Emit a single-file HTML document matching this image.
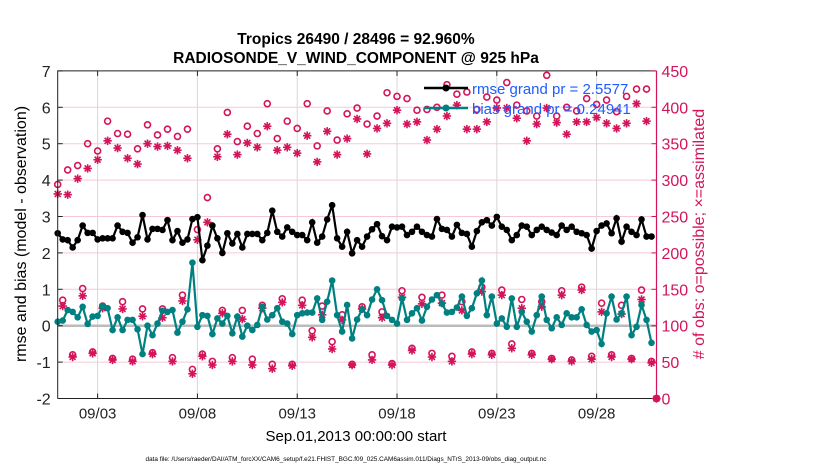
<!DOCTYPE html>
<html><head><meta charset="utf-8"><style>
body{margin:0;background:#fff;}
svg text{font-family:"Liberation Sans",sans-serif;}
</style></head><body>
<svg id="chart" width="830" height="470" xmlns="http://www.w3.org/2000/svg">
<g id="grid"></g>
<g id="series"></g>
<g id="axes"></g>
<text x="356" y="44" text-anchor="middle" font-size="15.5" font-weight="bold">Tropics 26490 / 28496 = 92.960%</text>
<text x="356" y="63" text-anchor="middle" font-size="15.5" font-weight="bold">RADIOSONDE_V_WIND_COMPONENT @ 925 hPa</text>
<text transform="translate(26,234) rotate(-90)" text-anchor="middle" font-size="16">rmse and bias (model - observation)</text>
<text transform="translate(704,234) rotate(-90)" text-anchor="middle" font-size="16" fill="#d4145a"># of obs: o=possible; ×=assimilated</text>
<text x="356" y="441" text-anchor="middle" font-size="15">Sep.01,2013 00:00:00 start</text>
<text x="346" y="461" text-anchor="middle" font-size="6.4">data file: /Users/raeder/DAI/ATM_forcXX/CAM6_setup/f.e21.FHIST_BGC.f09_025.CAM6assim.011/Diags_NTrS_2013-09/obs_diag_output.nc</text>
<g id="legend">
<line x1="424" y1="88" x2="468" y2="88" stroke="#000" stroke-width="2.5"/><circle cx="446" cy="88" r="3.5" fill="#000"/>
<text x="472" y="94" font-size="15" fill="#1f5cff">rmse grand pr = 2.5577</text>
<line x1="424" y1="108" x2="468" y2="108" stroke="#008080" stroke-width="2.5"/><circle cx="446" cy="108" r="3.5" fill="#008080"/>
<text x="472" y="114" font-size="15" fill="#1f5cff">bias grand pr = 0.24941</text>
</g>
</svg>
<script>
const xTickLabels=["09/03","09/08","09/13","09/18","09/23","09/28"];
const xTickDays=[2,7,12,17,22,27];
const yTicks=[-2,-1,0,1,2,3,4,5,6,7];
const y2Ticks=[0,50,100,150,200,250,300,350,400,450];
const rmse=[2.54,2.37,2.35,2.15,2.35,2.75,2.55,2.55,2.37,2.4,2.4,2.4,2.75,2.58,2.55,2.28,2.43,3.04,2.37,2.66,2.66,2.63,2.9,2.35,2.6,2.28,2.37,2.93,2.98,1.8,2.2,2.75,2.4,2.0,2.54,2.26,2.52,2.15,2.52,2.52,2.52,2.35,2.55,3.16,2.58,2.45,2.7,2.58,2.49,2.49,2.35,2.84,2.28,2.45,2.92,3.31,2.4,2.17,2.58,1.99,2.35,2.17,2.45,2.65,2.79,2.46,2.35,2.72,2.7,2.72,2.49,2.58,2.72,2.58,2.49,2.45,2.93,2.66,2.63,2.45,2.77,2.55,2.52,2.17,2.6,2.84,2.9,2.75,2.99,2.72,2.63,2.35,2.49,2.75,2.72,2.49,2.63,2.72,2.63,2.56,2.49,2.75,2.63,2.72,2.58,2.54,2.49,2.12,2.6,2.75,2.81,2.54,2.95,2.31,2.72,2.58,2.49,2.92,2.45,2.45];
const bias=[0.11,0.14,0.43,0.38,0.23,0.52,0.05,0.25,0.27,0.54,0.48,-0.12,0.23,-0.12,0.16,0.16,-0.1,-0.78,0,-0.26,0.06,0.41,0.38,0.43,-0.19,0.11,0.45,1.73,-0.03,0.29,0.27,-0.23,0.2,0.06,0.27,-0.21,0.25,-0.3,0,-0.12,0.02,0.52,0.17,0.29,0.48,0.11,0.06,-0.23,0.29,0.34,0.36,0.36,0.75,0.16,0.66,1.24,0.29,-0.16,0.57,-0.35,0.17,0.45,0.29,0.72,1.0,0.7,0.27,0.16,0.06,0.75,0.16,0.34,0.48,0.14,0.52,0.72,0.84,0.61,0.36,0.38,0.5,0.8,0.27,0.48,0.89,1.24,0.29,0.8,0.06,0.2,-0.03,0.75,-0.03,0.38,0.11,-0.16,0.29,0.8,0.16,-0.07,0.23,0.02,0.34,0.23,0.23,0.45,0.02,-0.16,-0.12,-0.5,0.34,0.8,0.17,0.34,0.8,-0.26,-0.03,0.57,0.16,-0.47];
const possible=[294,135,314,60,320,151,350,64,340,127,381,55,364,133,363,54,343,123,376,63,362,123,370,56,360,142,370,40,232,61,276,51,343,121,393,56,353,121,374,54,364,128,405,47,357,137,381,47,371,135,405,93,347,127,395,78,355,115,391,47,399,126,377,60,388,119,420,48,415,148,412,69,396,139,397,62,400,142,431,58,418,133,421,64,397,153,414,62,410,149,434,75,403,136,395,62,388,133,444,55,388,148,400,53,395,153,412,58,404,131,410,60,394,128,415,55,425,149,425,51,0];
const assimilated=[281,127,280,57,302,141,316,62,328,124,354,53,344,123,330,51,322,113,350,61,346,111,347,51,341,134,330,34,218,58,242,46,332,117,363,51,335,109,351,46,345,124,374,41,341,132,345,45,337,128,361,84,325,115,367,68,335,108,357,46,384,123,336,53,371,111,378,46,396,139,377,66,380,130,355,57,370,131,388,51,403,121,370,61,370,147,380,60,399,142,399,69,385,124,354,60,377,126,399,54,379,142,363,51,380,149,380,54,386,119,378,57,371,116,378,54,405,136,381,49,0];

const L=57.7,R=656.5,T=70.9,B=398.5;
const xs=d=>L+(d/30)*(R-L);
const ys=v=>B-(v+2)/9*(B-T);
const y2s=v=>B-v/450*(B-T);
const NS="http://www.w3.org/2000/svg";
function mk(tag,attrs,parent){const e=document.createElementNS(NS,tag);for(const k in attrs)e.setAttribute(k,attrs[k]);parent.appendChild(e);return e;}
const grid=document.getElementById('grid'),series=document.getElementById('series'),axes=document.getElementById('axes');
const PINK="#d4145a";
yTicks.forEach(v=>{if(v===-2||v===7)return;const l=mk('line',{x1:L,x2:R,y1:ys(v),y2:ys(v),stroke:'#f5c9da','stroke-width':1},grid);

});
xTickDays.forEach(d=>{const l=mk('line',{x1:xs(d),x2:xs(d),y1:T,y2:B,stroke:'#d8d8d8','stroke-width':1},grid);

});
const zl=mk('line',{x1:L,x2:R,y1:ys(0),y2:ys(0),stroke:'#bbbbbb','stroke-width':2.5},grid);


function star(cx,cy,parent){const g=mk('g',{stroke:PINK,'stroke-width':1.6},parent);const r=4.2;
for(let a=0;a<4;a++){const t=a*Math.PI/4;mk('line',{x1:cx-r*Math.cos(t),y1:cy-r*Math.sin(t),x2:cx+r*Math.cos(t),y2:cy+r*Math.sin(t)},g);}
mk('circle',{cx:cx,cy:cy,r:2,fill:PINK,stroke:'none'},g);return g;}
possible.forEach((v,i)=>{const c=mk('circle',{cx:xs(i*0.25),cy:y2s(v),r:3,fill:'none',stroke:PINK,'stroke-width':1.6},series);

});
assimilated.forEach((v,i)=>{const s=star(xs(i*0.25),y2s(v),series);

});
function line(arr,color,name){const p=mk('polyline',{points:arr.map((v,i)=>xs(i*0.25)+','+ys(v)).join(' '),fill:'none',stroke:color,'stroke-width':2.2},series);


arr.forEach((v,i)=>{const c=mk('circle',{cx:xs(i*0.25),cy:ys(v),r:3.3,fill:color},series);

});}
line(rmse,'#000','rmse');
line(bias,'#008080','bias');
const box=mk('path',{d:`M${L},${B}V${T}H${R}M${L},${B}H${R}`,fill:'none',stroke:'#222','stroke-width':1},axes);


const rs=mk('line',{x1:R,x2:R,y1:T,y2:B,stroke:PINK,'stroke-width':1.2},axes);


yTicks.forEach(v=>{mk('line',{x1:L,x2:L+5,y1:ys(v),y2:ys(v),stroke:'#222'},axes);
const t=mk('text',{x:L-7,y:ys(v)+6,'text-anchor':'end','font-size':16,fill:'#222'},axes);t.textContent=v;

});
y2Ticks.forEach(v=>{mk('line',{x1:R-5,x2:R,y1:y2s(v),y2:y2s(v),stroke:PINK},axes);
const t=mk('text',{x:R+5,y:y2s(v)+6,'font-size':16,fill:PINK},axes);t.textContent=v;

});
xTickDays.forEach((d,i)=>{mk('line',{x1:xs(d),x2:xs(d),y1:B,y2:B-5,stroke:'#222'},axes);mk('line',{x1:xs(d),x2:xs(d),y1:T,y2:T+5,stroke:'#222'},axes);
const t=mk('text',{x:xs(d),y:B+20,'text-anchor':'middle','font-size':15,fill:'#222'},axes);t.textContent=xTickLabels[i];

});
</script>
</body></html>
